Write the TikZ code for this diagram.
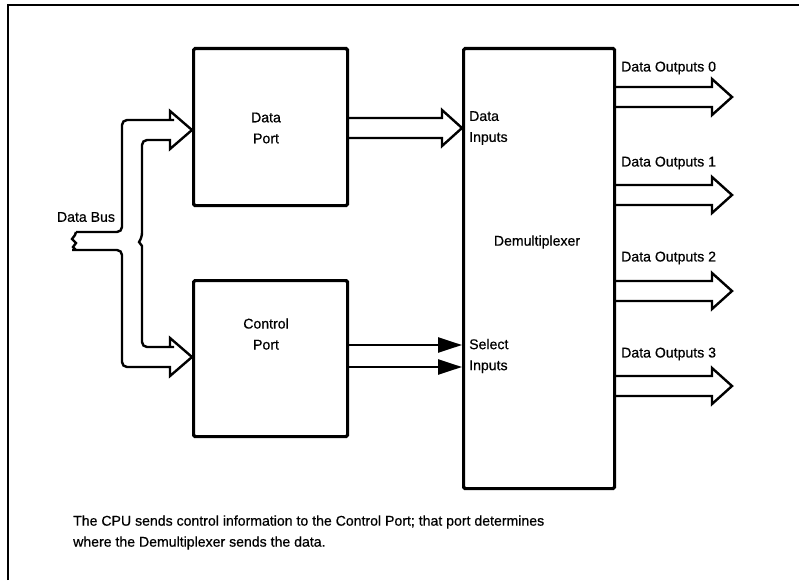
\documentclass[tikz,border=0pt]{standalone}
\usepackage{fontspec}
\setmainfont{Liberation Sans}
\newfontfamily\lblfont[FakeBold=0.6]{Liberation Sans}
\usetikzlibrary{arrows.meta}
\newcommand\hollowarrow[3]{% x-start, y-centre, x-tip
  \draw[bus] ({#1},{#2-10}) -- ({#3-20},{#2-10}) -- ({#3-20},{#2-18}) -- ({#3},{#2})
    -- ({#3-20},{#2+18}) -- ({#3-20},{#2+10}) -- ({#1},{#2+10});}
\begin{document}
\begin{tikzpicture}[x=1pt,y=-1pt,
  box/.style={draw, line width=3.2pt, rounded corners=1.5pt, inner sep=0pt, anchor=north west},
  bus/.style={line width=2.4pt, line join=miter},
  lbl/.style={font=\lblfont\fontsize{14.1}{21}\selectfont, inner sep=0pt},
  sel/.style={line width=2.4pt, -{Triangle[length=24pt,width=15pt]}},
  ]
\useasboundingbox (0,0) rectangle (799,580);
\draw[line width=2.5pt] (8,580) -- (8,5) -- (799,5);

% blocks
\node[box, minimum width=154, minimum height=157] (dport) at (192,47) {};
\node[box, minimum width=154, minimum height=156] (cport) at (192,279) {};
\node[box, minimum width=151, minimum height=440] (demux) at (462,47) {};

\node[lbl, align=center] (dporttext) at (266,128) {Data\\Port};
\node[lbl, align=center] (cporttext) at (266,334) {Control\\Port};
\node[lbl] (demuxtext) at (537,242) {Demultiplexer};
\node[lbl, anchor=west, align=left] (dintext) at (469,128) {Data\\Inputs};
\node[lbl, anchor=west, align=left] (selintext) at (469,356) {Select\\Inputs};
\node[lbl] (bustext) at (86,217) {Data Bus};

% data bus
\draw[bus] (76,232) [rounded corners=5] -- (122,232) -- (122,120) -- (169,120)
  [sharp corners] -- (170,120) -- (170,111) -- (192,130) -- (170,149) -- (170,140)
  [rounded corners=5] -- (142,140) -- (142,238)
  [sharp corners] -- (139,242) -- (142,246)
  [rounded corners=5] -- (142,347) -- (169,347)
  [sharp corners] -- (170,347) -- (170,338) -- (192,357) -- (170,376) -- (170,367)
  [rounded corners=5] -- (122,367) -- (122,250) -- (77,250)
  [sharp corners] -- (76,250) -- (73,247) -- (76,243) -- (72,239) -- (75,235) -- (76,232);

% data port -> demux
\hollowarrow{346}{128}{462}

% control port -> select inputs
\draw[sel] (346,345) -- (462,345);
\draw[sel] (346,367) -- (462,367);

% outputs
\hollowarrow{613}{97}{732}
\hollowarrow{613}{195}{732}
\hollowarrow{613}{291}{732}
\hollowarrow{613}{386}{732}
\node[lbl, anchor=west] (o0) at (621,68) {Data Outputs 0};
\node[lbl, anchor=west] (o1) at (621,163) {Data Outputs 1};
\node[lbl, anchor=west] (o2) at (621,258) {Data Outputs 2};
\node[lbl, anchor=west] (o3) at (621,354) {Data Outputs 3};

% caption
\node[lbl, anchor=west, align=left] (caption) at (73,532.5)
  {The CPU sends control information to the Control Port; that port determines\\
   where the Demultiplexer sends the data.};
\end{tikzpicture}
\end{document}
